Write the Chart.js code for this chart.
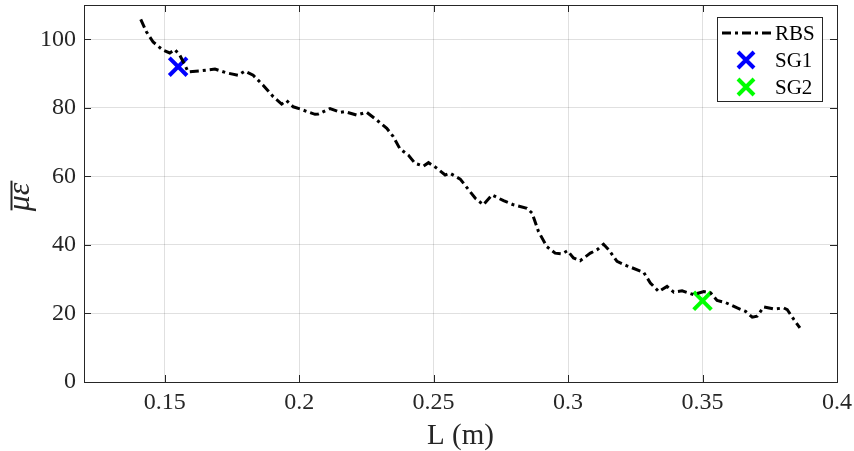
<!DOCTYPE html>
<html>
<head>
<meta charset="utf-8">
<script src="https://cdn.jsdelivr.net/npm/chart.js@4/dist/chart.umd.min.js"></script>
<style>
html,body{margin:0;padding:0;background:#fff;}
#wrap{width:854px;height:451px;}
</style>
</head>
<body>
<div id="wrap"><canvas id="c" width="854" height="451"></canvas></div>
<script>
const rbsL = [0.1411,0.1432,0.1457,0.1494,0.1519,0.1538,0.1556,0.1575,0.1587,0.1631,0.1687,0.173,0.1773,0.1798,0.1829,0.1866,0.1904,0.1935,0.1953,0.1978,0.2003,0.204,0.2059,0.2071,0.2115,0.2152,0.217,0.2214,0.2251,0.2289,0.2326,0.235,0.2375,0.2406,0.2431,0.2462,0.2481,0.2512,0.2543,0.2561,0.2599,0.263,0.2655,0.2685,0.2717,0.276,0.2797,0.2847,0.2866,0.289,0.2921,0.2952,0.2977,0.2998,0.302,0.3045,0.3083,0.3108,0.3132,0.3151,0.3182,0.3219,0.3281,0.3306,0.3337,0.3368,0.3393,0.3424,0.3467,0.3505,0.353,0.3554,0.3585,0.3629,0.366,0.3685,0.3703,0.3728,0.3765,0.3802,0.3815,0.384,0.3862];
const rbsStrain = [105.8,102.2,99.2,96.8,96.0,97.0,95.4,92.5,90.5,90.8,91.3,90.2,89.5,90.7,89.5,86.6,83.2,81.1,82.1,80.3,79.7,78.6,78.1,78.2,79.8,78.7,78.9,77.9,78.7,76.4,74.0,71.6,68.0,66.2,63.8,63.0,64.0,62.4,60.4,60.9,59.2,56.1,53.6,51.7,54.6,52.9,51.7,50.7,49.3,43.9,39.5,37.6,37.4,38.3,36.2,35.4,37.6,38.6,40.2,38.6,35.2,33.9,32.0,28.9,26.4,27.9,26.2,26.6,25.5,26.4,26.0,23.8,23.2,21.6,20.6,18.9,19.2,21.9,21.3,21.6,21.1,18.2,15.8];
const sg1L = [0.155];
const sg1Strain = [92];
const sg2L = [0.35];
const sg2Strain = [23.7];
const xTicks = [0.15,0.2,0.25,0.3,0.35,0.4];
const yTicks = [0,20,40,60,80,100];
const seriesNames = ["RBS","SG1","SG2"];
const xTitle = "L (m)";
const yTitle = "με";

const FONT = "'Liberation Serif', 'DejaVu Serif', serif";
const AXC = '#262626';
const DASH = [9,4,3,4];

const toPts = (xs, ys) => xs.map((x, i) => ({x: x, y: ys[i]}));
const noPad = s => { s.paddingTop = 0; s.paddingBottom = 0; s.paddingLeft = 0; s.paddingRight = 0; };

const framePlugin = {
  id: 'frame',
  afterDraw(chart) {
    const ctx = chart.ctx, a = chart.chartArea;
    const xs = chart.scales.x, ys = chart.scales.y;
    ctx.save();
    ctx.strokeStyle = AXC; ctx.lineWidth = 1;
    ctx.strokeRect(Math.round(a.left)+0.5, Math.round(a.top)+0.5, Math.round(a.right-a.left), Math.round(a.bottom-a.top));
    const tl = 7;
    ctx.beginPath();
    xTicks.forEach(v => {
      const p = Math.round(xs.getPixelForValue(v))+0.5;
      ctx.moveTo(p, a.bottom); ctx.lineTo(p, a.bottom - tl);
      ctx.moveTo(p, a.top); ctx.lineTo(p, a.top + tl);
    });
    yTicks.forEach(v => {
      const p = Math.round(ys.getPixelForValue(v))+0.5;
      ctx.moveTo(a.left, p); ctx.lineTo(a.left + tl, p);
      ctx.moveTo(a.right, p); ctx.lineTo(a.right - tl, p);
    });
    ctx.stroke();
    // y title with overline
    ctx.translate(25, 197);
    ctx.rotate(-Math.PI/2);
    ctx.fillStyle = AXC;
    ctx.font = "italic 32px " + FONT;
    ctx.textAlign = 'center'; ctx.textBaseline = 'alphabetic';
    ctx.fillText(yTitle, 0, 4);
    const w = ctx.measureText(yTitle).width;
    ctx.lineWidth = 2;
    ctx.beginPath(); ctx.moveTo(-w/2 + 1, -13.5); ctx.lineTo(w/2 + 2, -13.5); ctx.stroke();
    ctx.restore();

    // legend
    ctx.save();
    const bx = 717, by = 17, bw = 105, bh = 84;
    ctx.fillStyle = '#fff'; ctx.fillRect(bx, by, bw, bh);
    ctx.strokeStyle = AXC; ctx.lineWidth = 1;
    ctx.strokeRect(bx+0.5, by+0.5, bw, bh);
    const rows = [33, 60, 87];
    ctx.strokeStyle = '#000'; ctx.lineWidth = 3; ctx.setLineDash(DASH);
    ctx.beginPath(); ctx.moveTo(722, rows[0]); ctx.lineTo(771, rows[0]); ctx.stroke();
    ctx.setLineDash([]);
    const cross = (cx, cy, col) => {
      ctx.strokeStyle = col; ctx.lineWidth = 4;
      const r = 8;
      ctx.beginPath();
      ctx.moveTo(cx-r, cy-r); ctx.lineTo(cx+r, cy+r);
      ctx.moveTo(cx-r, cy+r); ctx.lineTo(cx+r, cy-r);
      ctx.stroke();
    };
    cross(746, rows[1], '#0000ff');
    cross(746, rows[2], '#00ff00');
    ctx.fillStyle = '#000'; ctx.font = "21px " + FONT;
    ctx.textAlign = 'left'; ctx.textBaseline = 'middle';
    ctx.fillText(seriesNames[0], 775, rows[0]+1);
    ctx.fillText(seriesNames[1], 775, rows[1]+1);
    ctx.fillText(seriesNames[2], 775, rows[2]+1);
    ctx.restore();
  }
};

new Chart(document.getElementById('c'), {
  type: 'scatter',
  data: {
    datasets: [
      { label: seriesNames[0], data: toPts(rbsL, rbsStrain), showLine: true, borderColor: '#000', borderWidth: 3, borderDash: DASH, pointRadius: 0, tension: 0, fill: false },
      { label: seriesNames[1], data: toPts(sg1L, sg1Strain), pointStyle: 'crossRot', pointRadius: 12.5, borderColor: '#0000ff', backgroundColor: '#0000ff', pointBorderWidth: 4 },
      { label: seriesNames[2], data: toPts(sg2L, sg2Strain), pointStyle: 'crossRot', pointRadius: 12.5, borderColor: '#00ff00', backgroundColor: '#00ff00', pointBorderWidth: 4 }
    ]
  },
  options: {
    responsive: false,
    animation: false,
    layout: { autoPadding: false, padding: { top: 5, right: 17, bottom: 0, left: 0 } },
    plugins: { legend: { display: false }, tooltip: { enabled: false } },
    scales: {
      x: {
        type: 'linear', min: 0.12, max: 0.4,
        afterBuildTicks: s => { s.ticks = xTicks.map(v => ({value: v})); },
        afterFit: s => { s.height = 69; noPad(s); },
        ticks: { color: AXC, font: { family: FONT, size: 24 }, padding: 6, maxRotation: 0, autoSkip: false, callback: v => String(+v.toFixed(2)) },
        grid: { color: 'rgba(0,0,0,0.12)', drawTicks: false },
        border: { display: false },
        title: { display: true, text: xTitle, color: AXC, font: { family: FONT, size: 29 }, padding: { top: 0, bottom: -3 } }
      },
      y: {
        type: 'linear', min: 0, max: 110,
        afterBuildTicks: s => { s.ticks = yTicks.map(v => ({value: v})); },
        afterFit: s => { s.width = 84; noPad(s); },
        ticks: { color: AXC, font: { family: FONT, size: 24 }, padding: 8 },
        grid: { color: 'rgba(0,0,0,0.12)', drawTicks: false },
        border: { display: false }
      }
    }
  },
  plugins: [framePlugin]
});
</script>
</body>
</html>
